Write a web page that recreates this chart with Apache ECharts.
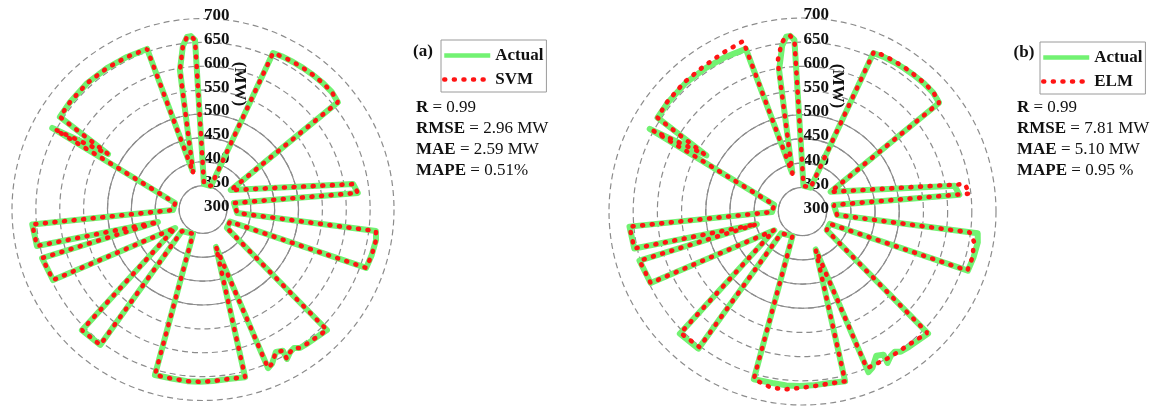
<!DOCTYPE html>
<html>
<head>
<meta charset="utf-8">
<title>Polar load: Actual vs SVM / ELM</title>
<script src="https://cdn.jsdelivr.net/npm/echarts@6.0.0/dist/echarts.min.js"></script>
<style>
  html, body { margin: 0; padding: 0; background: #fff; }
  #chart { width: 1174px; height: 410px; }
</style>
</head>
<body>
<div id="chart"></div>
<script>
// angle of each sample, degrees clockwise from 12 o'clock
const angles = [
  345.1, 350.6, 353.0, 354.7, 356.0, 357.3, 2.2, 18.8,
  24.1, 27.7, 31.4, 35.2, 39.3, 43.5, 47.7, 51.5, 55.1,
  80.4, 83.9, 78.2,
  95.9, 97.1, 100.0, 105.1, 109.7, 114.3,
  127.6, 134.2, 141.8, 145.0, 146.7, 148.6, 150.7, 150.5, 152.9, 155.9, 157.7,
  160.9, 165.9, 170.9, 176.7, 181.0, 185.3, 190.0, 196.2, 202.2,
  224.3, 217.2, 225.1, 236.5,
  244.8, 253.2, 254.5, 257.6, 265.0, 269.0,
  283.1, 298.4, 300.3,
  302.9, 308.9, 317.5, 325.8, 333.5, 340.8, 345.1
]

// load (MW)
const actual = [
  381, 596, 645, 663, 664, 655, 353, 352,
  659, 661, 662, 663, 664, 665, 665, 661, 371,
  619, 626, 366,
  372, 665, 668, 666, 663, 362,
  363, 662, 656, 654, 647, 650, 659, 640, 635, 654, 659,
  383, 662, 659, 660, 661, 661, 660, 661, 355,
  363, 656, 658, 370,
  647, 652, 398, 656, 659, 363,
  360, 659, 530,
  657, 658, 659, 658, 657, 656, 381
]

const svm = [
  381, 596, 645, 663, 664, 655, 353, 352,
  659, 661, 662, 663, 664, 665, 665, 661, 371,
  619, 626, 366,
  372, 665, 668, 666, 663, 362,
  363, 662, 656, 654, 647, 650, 659, 640, 635, 654, 659,
  383, 662, 659, 660, 661, 661, 660, 661, 355,
  363, 656, 658, 370,
  647, 652, 398, 656, 659, 363,
  360, 652, 530,
  657, 658, 659, 658, 657, 656, 381
]

const elm = [
  381, 615, 652, 663, 664, 655, 353, 352,
  662, 664, 664, 665, 665, 666, 666, 661, 371,
  640, 648, 366,
  372, 648, 660, 664, 662, 362,
  363, 660, 652, 651, 651, 651, 651, 651, 650, 650, 650,
  383, 662, 660, 662, 665, 669, 670, 661, 355,
  363, 652, 656, 370,
  647, 652, 398, 656, 659, 363,
  360, 650, 535,
  657, 660, 662, 663, 667, 673, 381
]

const radiusMin = 300
const radiusMax = 700
const radiusStep = 50
const solidMax = 500

const statsA = [['R', '0.99'], ['RMSE', '2.96 MW'], ['MAE', '2.59 MW'], ['MAPE', '0.51%']]
const statsB = [['R', '0.99'], ['RMSE', '7.81 MW'], ['MAE', '5.10 MW'], ['MAPE', '0.95 %']]

const serif = "'Liberation Serif', 'Times New Roman', serif"
const green = '#72f272'
const red = '#ff1414'
const gridGray = '#8c8c8c'

// two plots, each = main polar + inner polar that draws the solid rings
const plots = [
  { cx: 203, cy: 209.5, r: 191 },
  { cx: 802.5, cy: 211.5, r: 193.5 }
]

function toPolar(values) {
  return values.map((v, i) => [v, angles[i]])
}

const polar = []
const angleAxis = []
const radiusAxis = []
plots.forEach((p, k) => {
  polar.push({ center: [p.cx, p.cy], radius: [0, p.r] })
  polar.push({ center: [p.cx, p.cy], radius: [0, p.r * (solidMax - radiusMin) / (radiusMax - radiusMin)] })
  for (let j = 0; j < 2; j++) {
    angleAxis.push({
      polarIndex: k * 2 + j,
      type: 'value', min: 0, max: 360, startAngle: 90, clockwise: true,
      axisLine: { show: false }, axisTick: { show: false },
      axisLabel: { show: false }, splitLine: { show: false }
    })
  }
  radiusAxis.push({
    polarIndex: k * 2,
    min: radiusMin, max: radiusMax, interval: radiusStep,
    axisLine: { show: false }, axisTick: { show: false },
    axisLabel: {
      show: true, showMinLabel: true, showMaxLabel: true,
      margin: -1, align: 'left', verticalAlign: 'bottom', lineHeight: 6,
      fontFamily: serif, fontWeight: 'bold', fontSize: 17, color: '#111'
    },
    splitLine: { show: true, lineStyle: { color: gridGray, width: 1.2, type: [6, 4] } }
  })
  radiusAxis.push({
    polarIndex: k * 2 + 1,
    min: radiusMin, max: solidMax, interval: radiusStep,
    axisLine: { show: false }, axisTick: { show: false }, axisLabel: { show: false },
    splitLine: { show: true, lineStyle: { color: gridGray, width: 1.2, type: 'solid' } }
  })
})

function statText(x, y0, stats) {
  return stats.map((s, i) => ({
    type: 'text', left: x, top: y0 + i * 21,
    style: {
      text: '{k|' + s[0] + '}{v| = ' + s[1] + '}',
      rich: {
        k: { fontFamily: serif, fontSize: 17, fontWeight: 'bold', fill: '#111' },
        v: { fontFamily: serif, fontSize: 17, fill: '#111' }
      }
    }
  }))
}

function plainText(x, y, text, rot) {
  return {
    type: 'text', x: x, y: y, rotation: rot || 0,
    style: {
      text: text, fontFamily: serif, fontSize: 17, fontWeight: 'bold', fill: '#111',
      align: 'center', verticalAlign: 'middle'
    }
  }
}

function legendAt(left, top, names) {
  return {
    data: names, left: left, top: top, orient: 'vertical',
    selectedMode: false,
    borderColor: '#9a9a9a', borderWidth: 1, padding: [7, 3, 4, 1],
    itemGap: 7, itemWidth: 46, itemHeight: 14,
    // hide the round marker, keep only the line sample
    itemStyle: { color: 'rgba(0,0,0,0)', borderColor: 'rgba(0,0,0,0)', borderWidth: 0 },
    lineStyle: { width: 4.5 },
    textStyle: { fontFamily: serif, fontSize: 17, fontWeight: 'bold', color: '#111' }
  }
}

function lineSeries(name, values, polarIndex, isPred) {
  return {
    name: name, type: 'line', coordinateSystem: 'polar', polarIndex: polarIndex,
    data: toPolar(values), symbol: 'none', color: isPred ? red : green,
    lineStyle: isPred
      ? { color: red, width: 4.6, type: [1, 8.6], cap: 'round' }
      : { color: green, width: 6, join: 'round' },
    z: isPred ? 4 : 3, animation: false
  }
}

const chart = echarts.init(document.getElementById('chart'))
chart.setOption({
  backgroundColor: '#fff',
  animation: false,
  polar: polar,
  angleAxis: angleAxis,
  radiusAxis: radiusAxis,
  legend: [legendAt(441, 40, ['Actual', 'SVM']), legendAt(1040, 42, ['Actual', 'ELM'])],
  series: [
    lineSeries('Actual', actual, 0, false),
    lineSeries('SVM', svm, 0, true),
    lineSeries('Actual', actual, 2, false),
    lineSeries('ELM', elm, 2, true)
  ],
  graphic: [
    plainText(423, 52, '(a)'),
    plainText(1024, 53, '(b)'),
    plainText(239, 84, '(MW)', -Math.PI / 2),
    plainText(837, 86, '(MW)', -Math.PI / 2)
  ].concat(statText(416, 99, statsA), statText(1017, 99, statsB))
})
</script>
</body>
</html>
